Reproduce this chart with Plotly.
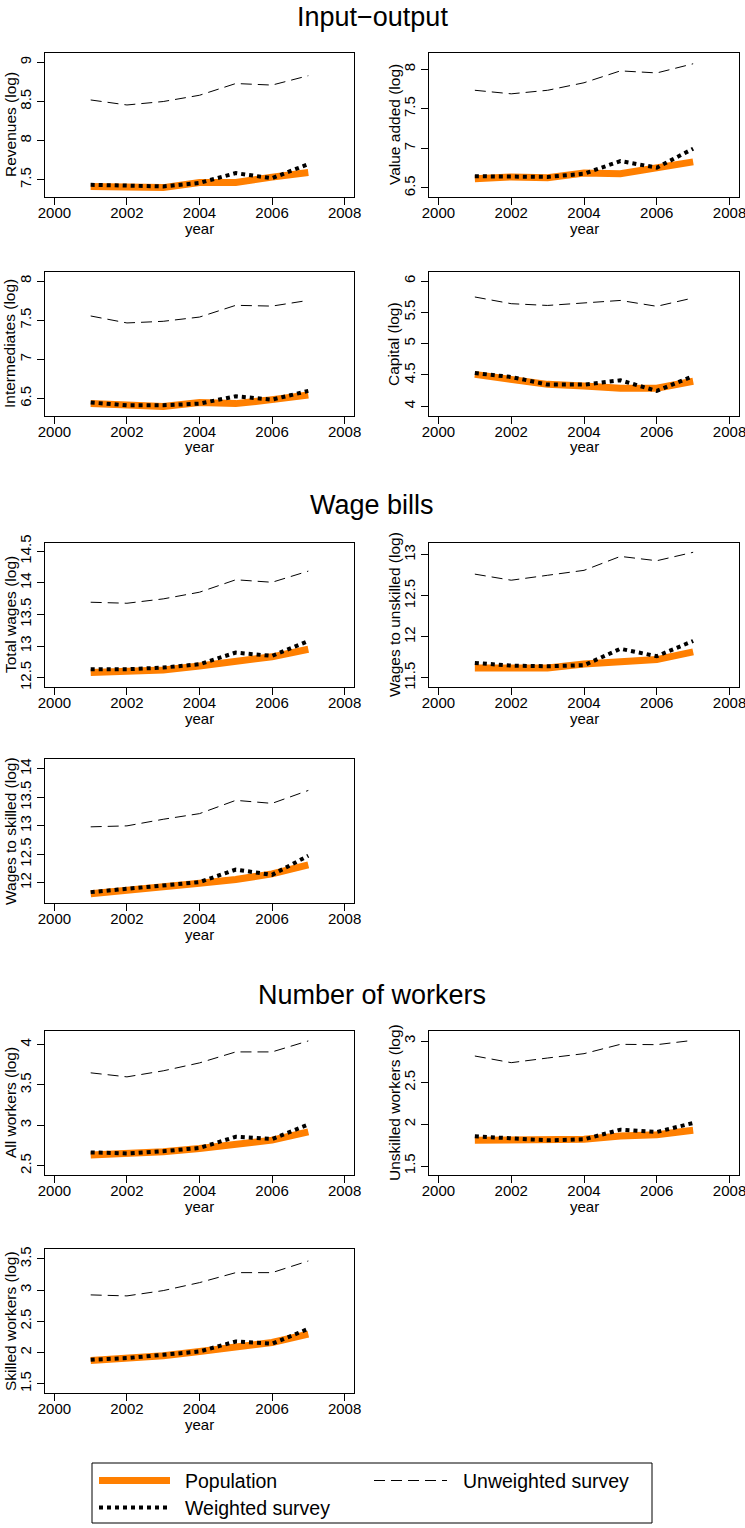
import plotly.graph_objects as go

# ---------------- data ----------------
years = [2001, 2002, 2003, 2004, 2005, 2006, 2007]

revenues_pop = [7.415, 7.415, 7.40, 7.466, 7.466, 7.534, 7.594]
revenues_wtd = [7.436, 7.43, 7.415, 7.46, 7.585, 7.52, 7.70]
revenues_unw = [8.52, 8.456, 8.50, 8.58, 8.73, 8.71, 8.83]

value_added_pop = [6.618, 6.64, 6.63, 6.69, 6.68, 6.745, 6.83]
value_added_wtd = [6.648, 6.64, 6.64, 6.68, 6.84, 6.757, 6.997]
value_added_unw = [7.735, 7.69, 7.735, 7.83, 7.98, 7.954, 8.07]

intermediates_pop = [6.436, 6.424, 6.40, 6.45, 6.436, 6.487, 6.547]
intermediates_wtd = [6.45, 6.415, 6.415, 6.436, 6.53, 6.487, 6.598]
intermediates_unw = [7.554, 7.465, 7.486, 7.54, 7.69, 7.68, 7.753]

capital_pop = [4.51, 4.44, 4.35, 4.324, 4.29, 4.29, 4.40]
capital_wtd = [4.53, 4.468, 4.346, 4.346, 4.415, 4.245, 4.48]
capital_unw = [5.745, 5.638, 5.61, 5.65, 5.69, 5.596, 5.73]

total_wages_pop = [12.58, 12.606, 12.622, 12.686, 12.765, 12.83, 12.95]
total_wages_wtd = [12.633, 12.633, 12.66, 12.712, 12.897, 12.844, 13.08]
total_wages_unw = [13.694, 13.678, 13.747, 13.853, 14.05, 14.01, 14.187]

wages_unskilled_pop = [11.622, 11.63, 11.622, 11.67, 11.70, 11.724, 11.818]
wages_unskilled_wtd = [11.683, 11.65, 11.643, 11.655, 11.855, 11.765, 11.95]
wages_unskilled_unw = [12.764, 12.69, 12.75, 12.81, 12.98, 12.927, 13.03]

wages_skilled_pop = [11.808, 11.866, 11.907, 11.994, 12.058, 12.157, 12.314]
wages_skilled_wtd = [11.837, 11.895, 11.965, 12.012, 12.233, 12.14, 12.477]
wages_skilled_unw = [12.983, 13.0, 13.116, 13.215, 13.448, 13.395, 13.622]

all_workers_pop = [2.632, 2.652, 2.673, 2.714, 2.776, 2.817, 2.92]
all_workers_wtd = [2.665, 2.652, 2.68, 2.72, 2.858, 2.83, 3.01]
all_workers_unw = [3.65, 3.60, 3.675, 3.773, 3.909, 3.909, 4.045]

unskilled_workers_pop = [1.808, 1.808, 1.80, 1.82, 1.86, 1.876, 1.928]
unskilled_workers_wtd = [1.856, 1.828, 1.808, 1.82, 1.936, 1.908, 2.016]
unskilled_workers_unw = [2.82, 2.74, 2.796, 2.848, 2.96, 2.956, 3.008]

skilled_workers_pop = [1.873, 1.90, 1.948, 2.017, 2.097, 2.161, 2.295]
skilled_workers_wtd = [1.884, 1.911, 1.964, 2.017, 2.177, 2.14, 2.38]
skilled_workers_unw = [2.924, 2.908, 2.993, 3.121, 3.281, 3.281, 3.468]

x_ticks = [2000, 2002, 2004, 2006, 2008]
section_titles = ["Input\u2212output", "Wage bills", "Number of workers"]
legend_labels = ["Population", "Weighted survey", "Unweighted survey"]

# ---------------- layout helpers ----------------
W, H = 745, 1528
FONT = "Liberation Sans, Arial, Helvetica, sans-serif"
ORANGE = "#FF7F00"


def px(x):
    return x / W


def py(y):
    return 1 - y / H


COLS = [(45, 354), (429, 739)]
BOX_H = 144

panels = [
    ("Revenues (log)", revenues_pop, revenues_wtd, revenues_unw, [7.5, 8, 8.5, 9], [7.28, 9.12], 0, 53),
    ("Value added (log)", value_added_pop, value_added_wtd, value_added_unw, [6.5, 7, 7.5, 8], [6.386, 8.206], 1, 53),
    ("Intermediates (log)", intermediates_pop, intermediates_wtd, intermediates_unw, [6.5, 7, 7.5, 8], [6.278, 8.115], 0, 272),
    ("Capital (log)", capital_pop, capital_wtd, capital_unw, [4, 4.5, 5, 5.5, 6], [3.845, 6.144], 1, 272),
    ("Total wages (log)", total_wages_pop, total_wages_wtd, total_wages_unw, [12.5, 13, 13.5, 14, 14.5], [12.352, 14.632], 0, 543),
    ("Wages to unskilled (log)", wages_unskilled_pop, wages_unskilled_wtd, wages_unskilled_unw, [11.5, 12, 12.5, 13], [11.39, 13.143], 1, 543),
    ("Wages to skilled (log)", wages_skilled_pop, wages_skilled_wtd, wages_skilled_unw, [12, 12.5, 13, 13.5, 14], [11.646, 14.174], 0, 759),
    ("All workers (log)", all_workers_pop, all_workers_wtd, all_workers_unw, [2.5, 3, 3.5, 4], [2.385, 4.168], 0, 1031),
    ("Unskilled workers (log)", unskilled_workers_pop, unskilled_workers_wtd, unskilled_workers_unw, [1.5, 2, 2.5, 3], [1.392, 3.12], 1, 1031),
    ("Skilled workers (log)", skilled_workers_pop, skilled_workers_wtd, skilled_workers_unw, [1.5, 2, 2.5, 3, 3.5], [1.351, 3.66], 0, 1249),
]

fig = go.Figure()
layout = {}
annotations = []

for i, (label, pop, wtd, unw, yt, yr, col, top) in enumerate(panels):
    n = i + 1
    xa = "x" if n == 1 else f"x{n}"
    ya = "y" if n == 1 else f"y{n}"
    xkey = "xaxis" if n == 1 else f"xaxis{n}"
    ykey = "yaxis" if n == 1 else f"yaxis{n}"
    left, right = COLS[col]
    bottom = top + BOX_H

    fig.add_trace(go.Scatter(x=years, y=pop, xaxis=xa, yaxis=ya, mode="lines",
                             line=dict(color=ORANGE, width=7), showlegend=False,
                             name=legend_labels[0]))
    fig.add_trace(go.Scatter(x=years, y=wtd, xaxis=xa, yaxis=ya, mode="lines",
                             line=dict(color="black", width=4, dash="dot"), showlegend=False,
                             name=legend_labels[1]))
    fig.add_trace(go.Scatter(x=years, y=unw, xaxis=xa, yaxis=ya, mode="lines",
                             line=dict(color="black", width=1, dash="11px,6px"), showlegend=False,
                             name=legend_labels[2]))

    common = dict(showline=True, mirror=True, linecolor="black", linewidth=1,
                  ticks="outside", ticklen=7, tickwidth=1, tickcolor="black",
                  showgrid=False, zeroline=False, automargin=False,
                  ticklabeloverflow="allow",
                  tickfont=dict(family=FONT, size=15, color="black"))
    layout[xkey] = dict(domain=[px(left), px(right)], anchor=ya,
                        range=[1999.74, 2008.26], tickmode="array", tickvals=x_ticks,
                        ticklabelstandoff=-5, **common)
    layout[ykey] = dict(domain=[py(bottom), py(top)], anchor=xa,
                        range=yr, tickmode="array", tickvals=yt, tickangle=-90,
                        **common)

    annotations.append(dict(text=label, xref="paper", yref="paper",
                            x=px(left - 35), y=py((top + bottom) / 2),
                            textangle=-90, showarrow=False, xanchor="center", yanchor="middle",
                            font=dict(family=FONT, size=15.5, color="black")))
    annotations.append(dict(text="year", xref="paper", yref="paper",
                            x=px((left + right) / 2), y=py(bottom + 31),
                            showarrow=False, xanchor="center", yanchor="middle",
                            font=dict(family=FONT, size=15, color="black")))

for title, yc in zip(section_titles, [17, 505, 995]):
    annotations.append(dict(text=title, xref="paper", yref="paper",
                            x=px(372), y=py(yc), showarrow=False,
                            xanchor="center", yanchor="middle",
                            font=dict(family=FONT, size=27, color="black")))

# legend (drawn manually, R style)
shapes = [
    dict(type="rect", xref="paper", yref="paper", x0=px(92), x1=px(652), y0=py(1523), y1=py(1463),
         line=dict(color="black", width=1), fillcolor="rgba(0,0,0,0)"),
    dict(type="line", xref="paper", yref="paper", x0=px(99), x1=px(170), y0=py(1480.5), y1=py(1480.5),
         line=dict(color=ORANGE, width=7)),
    dict(type="line", xref="paper", yref="paper", x0=px(99), x1=px(170), y0=py(1507.5), y1=py(1507.5),
         line=dict(color="black", width=4, dash="dot")),
    dict(type="line", xref="paper", yref="paper", x0=px(374), x1=px(447), y0=py(1480.5), y1=py(1480.5),
         line=dict(color="black", width=1, dash="11px,6px")),
]
for text, xl, yc in [(legend_labels[0], 183, 1480.5), (legend_labels[1], 183, 1507.5),
                     (legend_labels[2], 461, 1480.5)]:
    annotations.append(dict(text=text, xref="paper", yref="paper", x=px(xl), y=py(yc),
                            showarrow=False, xanchor="left", yanchor="middle",
                            font=dict(family=FONT, size=19.5, color="black")))

fig.update_layout(
    template="none",
    width=W, height=H,
    margin=dict(l=0, r=0, t=0, b=0, pad=0),
    paper_bgcolor="white", plot_bgcolor="white",
    showlegend=False,
    annotations=annotations, shapes=shapes,
    font=dict(family=FONT, color="black"),
    **layout,
)

fig.write_html("out.html", config={"displayModeBar": False},
               post_script="document.body.style.margin='0';document.body.style.overflow='hidden';")
